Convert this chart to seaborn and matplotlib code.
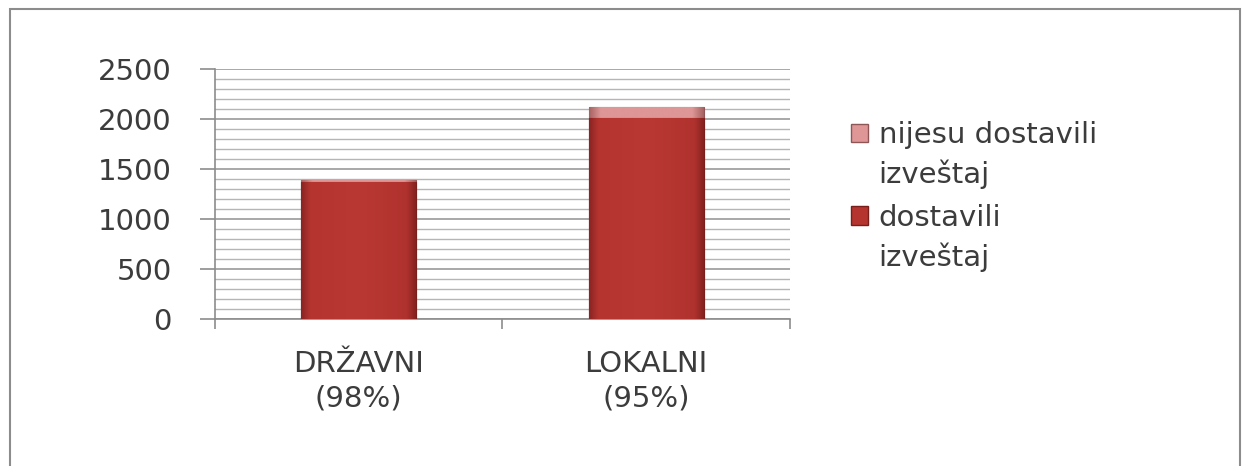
import pandas as pd
import numpy as np
import matplotlib
matplotlib.use("Agg")
import matplotlib.pyplot as plt
import seaborn as sns
from matplotlib.patches import Patch, Rectangle
from matplotlib.legend_handler import HandlerPatch
from matplotlib.colors import LinearSegmentedColormap
from matplotlib.ticker import MultipleLocator

categories = ["DRŽAVNI\n(98%)", "LOKALNI\n(95%)"]
dostavili = [1365, 2010]
nijesu = [28, 108]

df = pd.DataFrame({"kategorija": categories, "dostavili": dostavili, "nijesu": nijesu})
df["ukupno"] = df["dostavili"] + df["nijesu"]

sns.set_style("white")
plt.rcParams["font.family"] = ["DejaVu Sans"]

fig = plt.figure(figsize=(12.42, 4.66), dpi=100)
ax = fig.add_axes([0.1731, 0.3155, 0.4629, 0.5365])

col_dost = "#B5342F"
col_nij = "#DE9696"
text_col = "#3C3C3C"
fs = 21

# stacked: total first (top segment colour), then bottom segment
sns.barplot(data=df, x="kategorija", y="ukupno", color=col_nij, width=0.4, saturation=1,
            edgecolor="#8E5656", linewidth=0.8, ax=ax, zorder=3)
n_top = len(ax.patches)
sns.barplot(data=df, x="kategorija", y="dostavili", color=col_dost, width=0.4, saturation=1,
            edgecolor="#7A1E1C", linewidth=0.8, ax=ax, zorder=4)

# soft shading on the bars (a bit darker at the sides)
grad = np.linspace(0, 1, 256).reshape(1, -1)
cmaps = [LinearSegmentedColormap.from_list("t", [(0, "#A66262"), (0.1, "#DE9696"),
                                                 (0.9, "#DE9696"), (1, "#A66262")]),
         LinearSegmentedColormap.from_list("d", [(0, "#8A2422"), (0.08, "#B5342F"),
                                                 (0.5, "#BA3833"), (0.92, "#B0322E"),
                                                 (1, "#852220")])]
for i, p in enumerate(ax.patches):
    cm = cmaps[0] if i < n_top else cmaps[1]
    x0, y0 = p.get_x(), p.get_y()
    im = ax.imshow(grad, cmap=cm, aspect="auto", zorder=p.get_zorder(),
                   extent=(x0, x0 + p.get_width(), y0, y0 + p.get_height()))
    im.set_clip_path(p)

ax.set_xlim(-0.5, 1.5)
ax.set_ylim(0, 2500)
ax.yaxis.set_major_locator(MultipleLocator(500))
ax.yaxis.set_minor_locator(MultipleLocator(100))
ax.grid(which="major", axis="y", color="#9A9A9A", linewidth=1.2, zorder=0)
ax.grid(which="minor", axis="y", color="#B5B5B5", linewidth=1.0, zorder=0)
ax.set_axisbelow(True)

for s in ["top", "right"]:
    ax.spines[s].set_visible(False)
for s in ["left", "bottom"]:
    ax.spines[s].set_color("#8C8C8C")
    ax.spines[s].set_linewidth(1.2)

ax.set_xlabel("")
ax.set_ylabel("")
ax.set_xticks([0, 1])
ax.set_xticklabels(categories, color=text_col, fontsize=fs, linespacing=1.32)
ax.tick_params(axis="x", which="major", length=0, pad=22)
ax.set_xticks([-0.5, 0.5, 1.5], minor=True)
ax.tick_params(axis="x", which="minor", bottom=True, length=7, color="#8C8C8C", width=1.2)
ax.tick_params(axis="y", which="major", left=True, length=11, color="#8C8C8C", width=1.2,
               labelsize=fs, labelcolor=text_col, pad=20)
ax.tick_params(axis="y", which="minor", length=0)


def top_aligned_patch(legend, orig_handle, xdescent, ydescent, width, height, fontsize):
    # put the marker beside the first line of a two-line label
    return Rectangle((-xdescent, -ydescent + 0.78 * fontsize), width, height)


handles = [Patch(facecolor=col_nij, edgecolor="#8E5656", label="nijesu dostavili\nizveštaj"),
           Patch(facecolor=col_dost, edgecolor="#7A1E1C", label="dostavili\nizveštaj")]
leg = fig.legend(handles=handles, loc="upper left", bbox_to_anchor=(0.664, 0.797),
                 frameon=False, fontsize=fs, labelcolor=text_col,
                 handlelength=0.6, handleheight=0.6, handletextpad=0.35,
                 labelspacing=0.5,
                 handler_map={Patch: HandlerPatch(patch_func=top_aligned_patch)})
for t in leg.get_texts():
    t.set_linespacing(1.45)

fig.patches.append(Rectangle((0.008, -0.01), 0.99, 0.99, transform=fig.transFigure,
                             fill=False, edgecolor="#8C8C8C", linewidth=1.5))

fig.savefig("out.png", dpi=100)
